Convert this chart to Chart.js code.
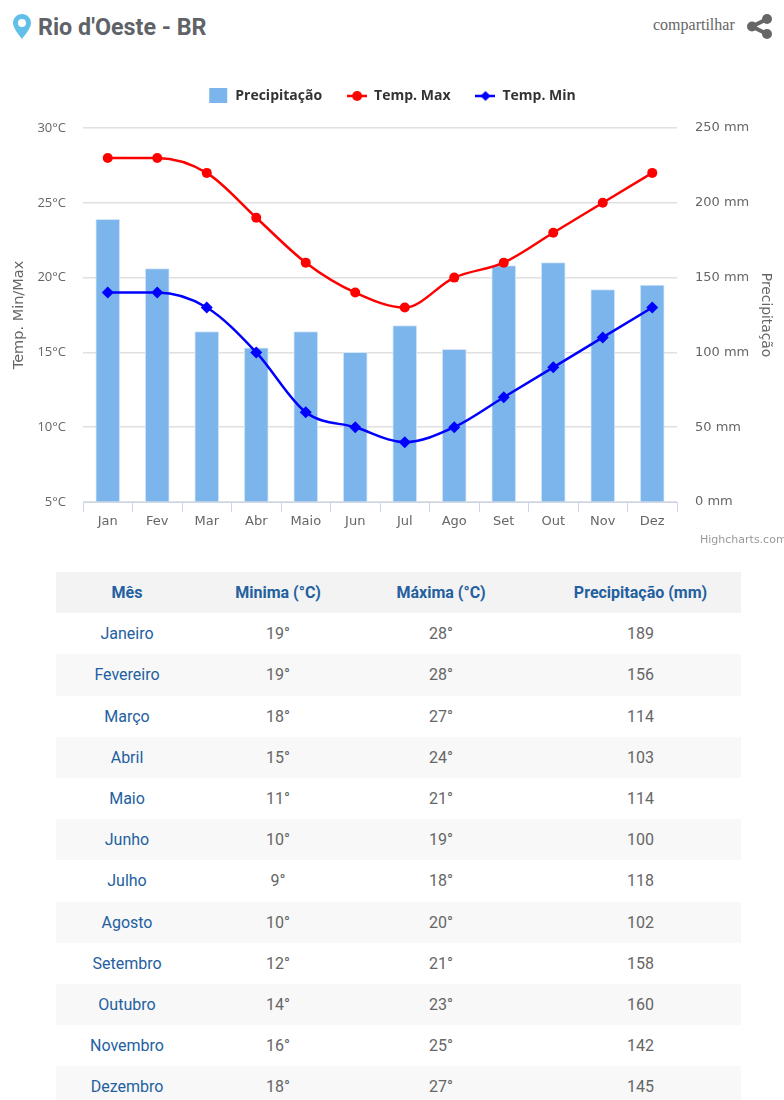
<!DOCTYPE html>
<html>
<head>
<meta charset="utf-8">
<script src="https://cdn.jsdelivr.net/npm/chart.js@4"></script>
<style>
    html, body { margin: 0; padding: 0; background: #fff; }
    body { position: relative; width: 784px; height: 1100px; overflow: hidden; font-family: Roboto, sans-serif; }
    #chart { position: absolute; left: 0; top: 0; }
    #pin { position: absolute; left: 13px; top: 14px; }
    h1 { position: absolute; left: 38px; top: 13px; margin: 0; font-size: 23.3px; line-height: 28px; font-weight: 700; color: #5f6368; }
    #share { position: absolute; left: 653px; top: 15px; font: 16px/20px "Liberation Serif", serif; color: #666; }
    #shareIcon { position: absolute; left: 747px; top: 14px; }
    #credit { position: absolute; left: 700px; top: 533px; font: 11px/14px "DejaVu Sans", sans-serif; color: #999; white-space: nowrap; }
    table { position: absolute; left: 56px; top: 572px; width: 685px; border-collapse: collapse; table-layout: fixed; color: #666; font-size: 16px; }
    th { height: 41.2px; padding: 0; font-weight: 700; color: #23609f; background: #f3f3f3; }
    td { height: 41.2px; padding: 0; text-align: center; }
    td:first-child { color: #23609f; }
    th:last-child, td:last-child { padding-left: 16px; }
    tr:nth-child(even) td { background: #f8f8f8; }
</style>
</head>
<body>
<svg id="pin" width="18" height="25" viewBox="0 0 18 25"><path fill="#62c0e8" fill-rule="evenodd" d="M9 0C4 0 0 4 0 9c0 5 6 12 9 16 3-4 9-11 9-16C18 4 14 0 9 0zm0 5a4 4 0 1 1 0 8 4 4 0 0 1 0-8z"/></svg>
<h1>Rio d'Oeste - BR</h1>
<div id="share">compartilhar</div>
<svg id="shareIcon" width="26" height="25" viewBox="0 0 26 25"><g fill="#666"><circle cx="20" cy="5" r="5"/><circle cx="5" cy="12.5" r="5"/><circle cx="20" cy="20" r="5"/></g><path d="M20 5L5 12.5L20 20" stroke="#666" stroke-width="4" fill="none"/></svg>
<canvas id="chart" width="784" height="560"></canvas>
<div id="credit">Highcharts.com</div>
<table id="tabela"><thead></thead><tbody></tbody></table>

<script>
// dados do gráfico
const meses = ['Jan', 'Fev', 'Mar', 'Abr', 'Maio', 'Jun', 'Jul', 'Ago', 'Set', 'Out', 'Nov', 'Dez'];
const mesesNome = ['Janeiro', 'Fevereiro', 'Março', 'Abril', 'Maio', 'Junho', 'Julho', 'Agosto', 'Setembro', 'Outubro', 'Novembro', 'Dezembro'];
const tempMax = [28, 28, 27, 24, 21, 19, 18, 20, 21, 23, 25, 27];
const tempMin = [19, 19, 18, 15, 11, 10, 9, 10, 12, 14, 16, 18];
const precipitacao = [189, 156, 114, 103, 114, 100, 118, 102, 158, 160, 142, 145];
const colunas = ['Mês', 'Minima (°C)', 'Máxima (°C)', 'Precipitação (mm)'];
const larguras = ['142px', '160px', '166px', '201px'];

// tabela
const thead = document.querySelector('#tabela thead');
const tbody = document.querySelector('#tabela tbody');
thead.innerHTML = '<tr>' + colunas.map((c, i) => `<th style="width:${larguras[i]}">${c}</th>`).join('') + '</tr>';
tbody.innerHTML = mesesNome.map((m, i) =>
    `<tr><td>${m}</td><td>${tempMin[i]}°</td><td>${tempMax[i]}°</td><td>${precipitacao[i]}</td></tr>`
).join('');

// ícones da legenda
function legendIcon(color, kind) {
    const c = document.createElement('canvas');
    c.width = 20;
    c.height = 16;
    const g = c.getContext('2d');
    g.fillStyle = color;
    g.strokeStyle = color;
    if (kind === 'bar') {
        g.fillRect(1, 0, 18, 15);
        return c;
    }
    g.lineWidth = 2.5;
    g.beginPath();
    g.moveTo(0, 8);
    g.lineTo(20, 8);
    g.stroke();
    g.beginPath();
    if (kind === 'circle') {
        g.arc(10, 8, 5, 0, Math.PI * 2);
    } else {
        g.moveTo(10, 3);
        g.lineTo(15, 8);
        g.lineTo(10, 13);
        g.lineTo(5, 8);
        g.closePath();
    }
    g.fill();
    return c;
}
const legendIcons = [legendIcon('#7cb5ec', 'bar'), legendIcon('#ff0000', 'circle'), legendIcon('#0000ff', 'diamond')];

const fonte = '"DejaVu Sans", sans-serif';

// legenda mais alta para empurrar a área do gráfico
const legendGap = {
    id: 'legendGap',
    beforeInit(chart) {
        const fit = chart.legend.fit;
        chart.legend.fit = function () {
            fit.call(this);
            this.height += 15;
        };
    }
};

new Chart(document.getElementById('chart'), {
    type: 'bar',
    plugins: [legendGap],
    data: {
        labels: meses,
        datasets: [
            {
                label: 'Precipitação',
                data: precipitacao,
                yAxisID: 'yChuva',
                backgroundColor: '#7cb5ec',
                borderColor: '#d5e6f8',
                borderWidth: 1,
                barThickness: 24,
                order: 3
            },
            {
                label: 'Temp. Max',
                type: 'line',
                data: tempMax,
                yAxisID: 'yTemp',
                borderColor: '#ff0000',
                backgroundColor: '#ff0000',
                borderWidth: 2.5,
                pointStyle: 'circle',
                pointRadius: 5,
                pointBorderWidth: 0,
                cubicInterpolationMode: 'monotone',
                order: 2
            },
            {
                label: 'Temp. Min',
                type: 'line',
                data: tempMin,
                yAxisID: 'yTemp',
                borderColor: '#0000ff',
                backgroundColor: '#0000ff',
                borderWidth: 2.5,
                pointStyle: 'rectRot',
                pointRadius: 6,
                pointBorderWidth: 0,
                cubicInterpolationMode: 'monotone',
                order: 1
            }
        ]
    },
    options: {
        responsive: false,
        animation: false,
        devicePixelRatio: 1,
        layout: { padding: { top: 64, left: 0, right: 0, bottom: 0 } },
        plugins: {
            tooltip: { enabled: false },
            legend: {
                position: 'top',
                labels: {
                    usePointStyle: true,
                    pointStyleWidth: 20,
                    padding: 25,
                    color: '#333',
                    font: { family: '"Open Sans", sans-serif', size: 14, weight: 'bold' },
                    generateLabels: chart => chart.data.datasets.map((d, i) => ({
                        text: d.label,
                        datasetIndex: i,
                        pointStyle: legendIcons[i],
                        fontColor: '#333',
                        lineWidth: 0
                    }))
                }
            }
        },
        scales: {
            x: {
                grid: { drawOnChartArea: false, color: '#ccd6eb', tickLength: 10, offset: true },
                border: { color: '#ccd6eb' },
                ticks: { color: '#666', font: { family: fonte, size: 13 }, padding: 2, maxRotation: 0, autoSkip: false },
                afterFit: s => { s.height = 58; }
            },
            yTemp: {
                position: 'left',
                min: 5,
                max: 30,
                ticks: { stepSize: 5, color: '#666', font: { family: '"Open Sans", sans-serif', size: 13 }, padding: 17, callback: v => v + '°C' },
                grid: { color: '#e0e0e0', lineWidth: 1.5, drawTicks: false },
                border: { display: false },
                title: { display: true, text: 'Temp. Min/Max', color: '#666', font: { family: fonte, size: 14.5 }, padding: { top: 11, bottom: 0 } },
                afterFit: s => { s.width = 83; }
            },
            yChuva: {
                position: 'right',
                min: 0,
                max: 250,
                ticks: { stepSize: 50, color: '#666', font: { family: fonte, size: 13 }, padding: 18, callback: v => v + ' mm' },
                grid: { drawOnChartArea: false, drawTicks: false },
                border: { display: false },
                title: { display: true, text: 'Precipitação', color: '#666', font: { family: fonte, size: 13.8 }, padding: { top: 10, bottom: 0 } },
                afterFit: s => { s.width = 107; }
            }
        }
    }
});
</script>
</body>
</html>
